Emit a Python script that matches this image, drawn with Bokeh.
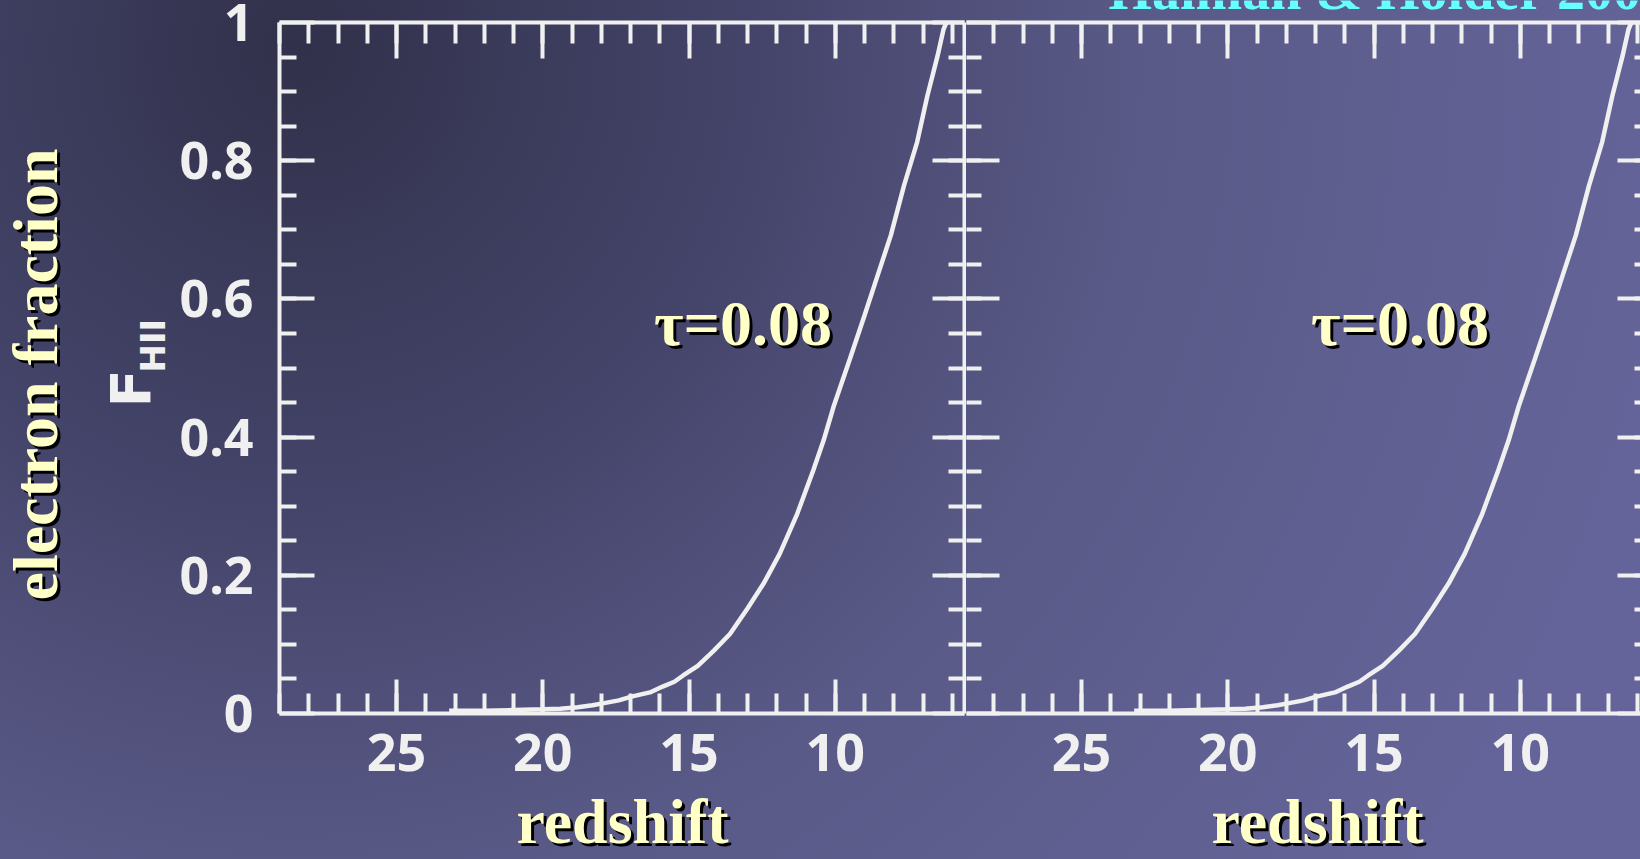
import math
from bokeh.plotting import figure
from bokeh.layouts import row, column
from bokeh.models import Range1d, FixedTicker, LinearAxis, Label
from bokeh.embed import file_html
from bokeh.resources import INLINE

# ------------------------------------------------------------------ data
redshift = [23.2, 22.0, 21.0, 20.0, 19.4, 18.8, 18.3, 17.9, 17.4, 17.0, 16.6, 16.3,
            15.9, 15.5, 15.2, 14.7, 14.15, 13.6, 13.0, 12.45, 11.9, 11.3, 10.75, 10.4,
            10.05, 9.5, 9.0, 8.55, 8.1, 7.65, 7.2, 6.85, 6.5, 6.3, 6.2]
f_hii = [0.004, 0.004, 0.005, 0.006, 0.007, 0.009, 0.012, 0.015, 0.019, 0.024, 0.028, 0.031,
         0.039, 0.046, 0.055, 0.069, 0.091, 0.115, 0.152, 0.188, 0.231, 0.289, 0.352, 0.395,
         0.445, 0.513, 0.576, 0.634, 0.692, 0.764, 0.827, 0.894, 0.952, 0.990, 1.0]

x_major_ticks = [10, 15, 20, 25]
x_tick_labels = ["10", "15", "20", "25"]
x_minor_ticks = [6, 7, 8, 9, 10, 11, 12, 13, 14, 15, 16, 17, 18, 19, 20, 21, 22, 23, 24,
                 25, 26, 27, 28, 29]
y_major_ticks = [0.0, 0.2, 0.4, 0.6, 0.8, 1.0]
y_tick_labels = ["0", "0.2", "0.4", "0.6", "0.8", "1"]
y_minor_ticks = [0.05, 0.1, 0.15, 0.2, 0.25, 0.3, 0.35, 0.4, 0.45, 0.5, 0.55, 0.6, 0.65,
                 0.7, 0.75, 0.8, 0.85, 0.9, 0.95]

panel_label = "τ=0.08"
x_title = "redshift"
y_title = "electron fraction"
y_symbol = "F"
y_symbol_sub = "HII"
credit = "Haiman & Holder 2003"

# ------------------------------------------------------------------ layout (page pixels)
PAGE_W = 1640
PAGE_H = 859
PX_PER_Z = 29.25
Z_MAX = 29.0
FRAME_TOP = 22
FRAME_BOTTOM = 713
TXT_W = 176            # left text column
A_FRAME_LEFT = 279
MID = 964
B_LEFT = 966
PANEL_H = 784          # plot rows end here; title band below
TOP_BAND = 18          # band above the right panel (credit line)
TITLE_BASE = 845       # baseline of the "redshift" titles

LINE = "#f0f0f0"
YELLOW = "#ffffc8"
CYAN = "#66ffff"
SERIF = "Liberation Serif"
TICKFONT = "Noto Sans"


def ya(py):
    return (FRAME_BOTTOM - py) / (FRAME_BOTTOM - FRAME_TOP)


def xa(px):
    return Z_MAX - (px - A_FRAME_LEFT) / PX_PER_Z


def xb(px):
    return Z_MAX - (px - MID) / PX_PER_Z


def style_axis(ax, ticks, minor, major_in, minor_in, labels=None, line=True, standoff=0):
    ax.ticker = FixedTicker(ticks=ticks, minor_ticks=minor)
    ax.major_tick_in = major_in
    ax.major_tick_out = 0
    ax.minor_tick_in = minor_in
    ax.minor_tick_out = 0
    ax.major_tick_line_color = LINE if major_in > 0 else None
    ax.minor_tick_line_color = LINE if minor_in > 0 else None
    ax.major_tick_line_width = 4
    ax.minor_tick_line_width = 4
    ax.axis_line_color = LINE if line else None
    ax.axis_line_width = 4
    if labels is not None:
        ax.major_label_overrides = dict(zip(ticks, labels))
        ax.major_label_text_font = TICKFONT
        ax.major_label_text_font_style = "bold"
        ax.major_label_text_font_size = "52px"
        ax.major_label_text_color = LINE
        ax.major_label_standoff = standoff
    else:
        ax.major_label_text_font_size = "0px"
        ax.major_label_text_color = None
        ax.major_label_standoff = 0


def add_text(fig, x, y, text, size_px, color, font=SERIF, style="bold", align="left",
             angle=0.0, shadow=False):
    size = "%dpx" % size_px
    if shadow:
        fig.add_layout(Label(x=x, y=y, text=text, x_offset=3, y_offset=-3, angle=angle,
                             text_font=font, text_font_size=size, text_font_style=style,
                             text_color="black", text_align=align,
                             text_baseline="alphabetic"))
    fig.add_layout(Label(x=x, y=y, text=text, angle=angle, text_font=font,
                         text_font_size=size, text_font_style=style, text_color=color,
                         text_align=align, text_baseline="alphabetic"))


def clear_fig(f):
    f.background_fill_color = None
    f.border_fill_color = None
    f.outline_line_color = None
    f.xgrid.visible = False
    f.ygrid.visible = False
    return f


def make_plot(width, height, x_start, x_end, left, right, top, bottom):
    f = figure(width=width, height=height, output_backend="svg", toolbar_location=None,
               x_range=Range1d(x_start, x_end), y_range=Range1d(0, 1),
               x_axis_location=None, y_axis_location=None,
               min_border_left=left, min_border_right=right,
               min_border_top=top, min_border_bottom=bottom)
    return clear_fig(f)


def make_text_fig(x0, y0, width, height, left=0, right=0):
    # data units are page pixels (y downwards); frame spans x0+left .. x0+width-right
    f = figure(width=width, height=height, output_backend="svg", toolbar_location=None,
               x_range=Range1d(x0 + left, x0 + width - right),
               y_range=Range1d(y0 + height, y0),
               x_axis_location=None, y_axis_location=None,
               min_border_left=left, min_border_right=right, min_border_top=0,
               min_border_bottom=0)
    return clear_fig(f)


# Bokeh draws an "alphabetic" label ~0.37 em below its anchor; compensate
SHIFT_SERIF = 0.37
SHIFT_SANS = 0.35

# ------------------------------------------------------------------ left text column
ftxt = make_text_fig(0, 0, TXT_W, PAGE_H)
add_text(ftxt, 59 - SHIFT_SERIF * 64, 374, y_title, 64, YELLOW, align="center",
         angle=math.pi / 2, shadow=True)
add_text(ftxt, 150 - SHIFT_SANS * 56, 407, y_symbol, 56, LINE, font="DejaVu Sans",
         style="bold", angle=math.pi / 2)
add_text(ftxt, 164 - SHIFT_SANS * 34, 372, y_symbol_sub, 34, LINE, font="DejaVu Sans",
         style="bold", angle=math.pi / 2)

# ------------------------------------------------------------------ left panel
A_W = B_LEFT - TXT_W
a_end = Z_MAX - (MID - A_FRAME_LEFT) / PX_PER_Z
fa = make_plot(A_W, PANEL_H, Z_MAX, a_end, A_FRAME_LEFT - TXT_W, B_LEFT - MID,
               FRAME_TOP, PANEL_H - FRAME_BOTTOM)

ax_bottom = LinearAxis()
style_axis(ax_bottom, x_major_ticks, x_minor_ticks, 34, 20, x_tick_labels, standoff=20)
fa.add_layout(ax_bottom, "below")
ax_top = LinearAxis()
style_axis(ax_top, x_major_ticks, x_minor_ticks, 36, 21)
fa.add_layout(ax_top, "above")
ax_left = LinearAxis()
style_axis(ax_left, y_major_ticks, y_minor_ticks, 35, 17, y_tick_labels, standoff=26)
fa.add_layout(ax_left, "left")
ax_mid = LinearAxis()
style_axis(ax_mid, y_major_ticks, y_minor_ticks, 32, 16)
fa.add_layout(ax_mid, "right")

fa.line(redshift, f_hii, line_color=LINE, line_width=4.5)
add_text(fa, xa(653.5), ya(347 - SHIFT_SERIF * 64), panel_label, 64, YELLOW, shadow=True)

fbot_a = make_text_fig(TXT_W, PANEL_H, A_W, PAGE_H - PANEL_H,
                       left=A_FRAME_LEFT - TXT_W, right=B_LEFT - MID)
add_text(fbot_a, 622, TITLE_BASE - SHIFT_SERIF * 64, x_title, 64, YELLOW, align="center",
         shadow=True)

# ------------------------------------------------------------------ right panel
B_W = PAGE_W - B_LEFT
b_start = xb(B_LEFT)
b_end = b_start - B_W / PX_PER_Z

ftop_b = make_text_fig(B_LEFT, 0, B_W, TOP_BAND)
add_text(ftop_b, 1108, 10 - SHIFT_SERIF * 56, credit, 56, CYAN)

fb = make_plot(B_W, PANEL_H - TOP_BAND, b_start, b_end, 0, 0,
               FRAME_TOP - TOP_BAND, PANEL_H - FRAME_BOTTOM)

bx_bottom = LinearAxis()
style_axis(bx_bottom, x_major_ticks, x_minor_ticks, 34, 20, x_tick_labels, standoff=20)
fb.add_layout(bx_bottom, "below")
bx_top = LinearAxis()
style_axis(bx_top, x_major_ticks, x_minor_ticks, 36, 21)
fb.add_layout(bx_top, "above")
by_left = LinearAxis()
style_axis(by_left, y_major_ticks, y_minor_ticks, 33, 15, line=False)
fb.add_layout(by_left, "left")
by_right = LinearAxis()
style_axis(by_right, y_major_ticks, y_minor_ticks, 23, 6, line=False)
fb.add_layout(by_right, "right")

fb.line(redshift, f_hii, line_color=LINE, line_width=4.5)
add_text(fb, xb(1310.5), ya(347 - SHIFT_SERIF * 64), panel_label, 64, YELLOW, shadow=True)

fbot_b = make_text_fig(B_LEFT, PANEL_H, B_W, PAGE_H - PANEL_H)
add_text(fbot_b, 1317, TITLE_BASE - SHIFT_SERIF * 64, x_title, 64, YELLOW, align="center",
         shadow=True)

layout = row(ftxt, column(fa, fbot_a), column(ftop_b, fb, fbot_b))

page_template = """
{% block postamble %}
<style>
html {
  min-height: 100%;
  overflow: hidden;
  background: radial-gradient(circle at 300px 50px, #31314b 0px, #44446a 450px,
              #5a5a88 850px, #64649a 1400px);
}
body { background: transparent; overflow: hidden; }
</style>
{% endblock %}
"""

open("out.html", "w").write(file_html(layout, INLINE, template=page_template))
